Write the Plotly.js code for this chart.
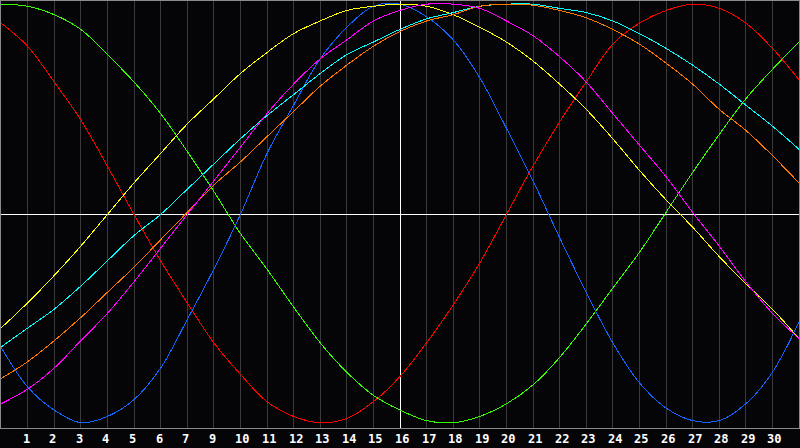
<!DOCTYPE html>
<html>
<head>
<meta charset="utf-8">
<script src="https://cdn.plot.ly/plotly-3.0.1.min.js"></script>
<style>
html,body{margin:0;padding:0;background:#050508;}
#chart{width:800px;height:448px;}
#chart .scatterlayer path, #chart .gridlayer path, #chart .zerolinelayer path, #chart .shapelayer path { shape-rendering: crispEdges; }
</style>
</head>
<body>
<div id="chart"></div>
<script>
// Day positions (grid index) and tick labels
var days = [0,1,2,3,4,5,6,7,8,9,10,11,12,13,14,15,16,17,18,19,20,21,22,23,24,25,26,27,28,29,30];
var gridPos = [1,2,3,4,5,6,7,8,9,10,11,12,13,14,15,16,17,18,19,20,21,22,23,24,25,26,27,28,29];
var tickLabels = ["1","2","3","4","5","6","7","9","10","11","12","13","14","15","16","17","18","19","20","21","22","23","24","25","26","27","28","29","30"];
var centerPos = 15;

// Series values (percent, -100..100)
var red     = [91,80,63,45,23,0,-22,-42,-61,-76,-89,-96,-99,-97,-89,-77,-61,-43,-23,0,23,44,63,81,91,97,100,98,91,79,64];
var green   = [100,99,95,88,76,63,48,30,11,-9,-26,-44,-61,-75,-86,-93,-98,-99,-96,-90,-81,-68,-52,-35,-18,1,20,38,55,69,82];
var blue    = [-63,-82,-93,-99,-96,-88,-73,-50,-26,0,29,52,74,89,99,100,94,83,65,41,16,-11,-37,-61,-80,-92,-98,-98,-90,-75,-51];
var yellow  = [-54,-42,-29,-15,0,15,29,43,55,67,77,86,92,97,99,100,99,95,89,82,73,62,50,36,21,7,-6,-20,-33,-45,-59];
var cyan    = [-63,-54,-45,-34,-22,-10,0,12,24,36,47,57,67,76,82,88,93,96,99,100,100,98,96,92,86,79,71,62,52,42,31];
var orange  = [-78,-70,-60,-49,-37,-25,-12,1,14,25,37,49,61,71,80,87,92,95,99,100,99.5,97,93.5,88,81,72,62,50,40,28,15];
var magenta = [-90,-83,-73,-60,-47,-32,-16,0,16,32,48,62,74,83,92,97,100,100,98,92,85,75,63,48,33,18,1,-15,-32,-47,-59];

var seriesList = [
  {y: red, color: "#ff0000"},
  {y: green, color: "#33ff00"},
  {y: blue, color: "#1464ff"},
  {y: yellow, color: "#ffff00"},
  {y: cyan, color: "#00ffff"},
  {y: orange, color: "#ff7700"},
  {y: magenta, color: "#ff00ff"}
];

var traces = seriesList.map(function(s){
  return {
    x: days, y: s.y, type: "scatter", mode: "lines",
    line: {color: s.color, width: 1, shape: "spline", smoothing: 1},
    hoverinfo: "none", showlegend: false
  };
});

var annotations = gridPos.map(function(p, i){
  return {
    x: p, y: 0, xref: "x", yref: "paper",
    text: "<b>" + tickLabels[i] + "</b>",
    showarrow: false, xanchor: "left", yanchor: "middle",
    xshift: -7, yshift: -11,
    font: {family: "DejaVu Sans Mono", size: 12, color: "#ffffff"}
  };
});

var layout = {
  width: 800, height: 448,
  margin: {l: 1, r: 1, t: 1, b: 20, pad: 0},
  paper_bgcolor: "#050508",
  plot_bgcolor: "#050508",
  showlegend: false,
  xaxis: {
    range: [0, 30], tickvals: gridPos.filter(function(p){ return p !== centerPos; }),
    showticklabels: false, ticks: "",
    showgrid: true, gridcolor: "#3a3a3a", gridwidth: 1, zeroline: false,
    showline: true, mirror: true, linecolor: "#8a8a8a", linewidth: 1, fixedrange: true
  },
  yaxis: {
    range: [-101.5, 101.5], showticklabels: false, ticks: "",
    showgrid: false, zeroline: true, zerolinecolor: "#ffffff", zerolinewidth: 1,
    showline: true, mirror: true, linecolor: "#8a8a8a", linewidth: 1, fixedrange: true
  },
  shapes: [{
    type: "line", xref: "x", yref: "paper", x0: centerPos, x1: centerPos, y0: 0, y1: 1,
    line: {color: "#ffffff", width: 1}, layer: "between"
  }],
  annotations: annotations
};

Plotly.newPlot("chart", traces, layout, {displayModeBar: false, staticPlot: true});
</script>
</body>
</html>
